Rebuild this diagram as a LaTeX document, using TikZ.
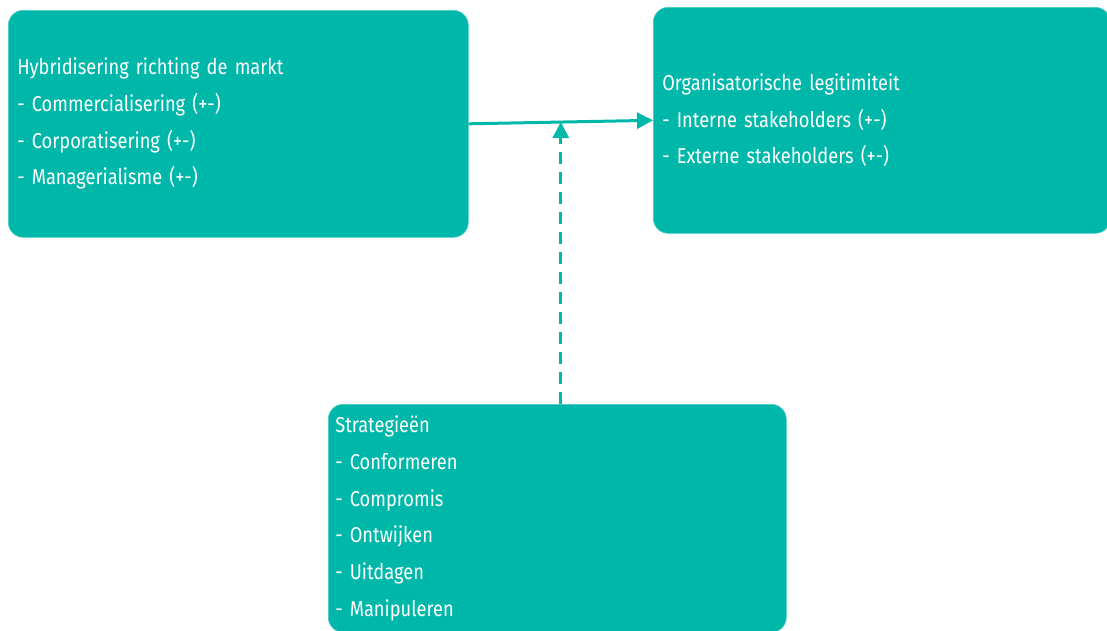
\documentclass[tikz,border=0pt]{standalone}
\usepackage{fontspec}
\setmainfont[FakeStretch=0.85]{Fira Sans}
\usetikzlibrary{arrows.meta,calc}
\definecolor{teal}{RGB}{0,184,170}
\begin{document}
\begin{tikzpicture}[x=1pt,y=-1pt,
  box/.style={draw=teal!70!white,line width=0.6pt,fill=teal,rounded corners=15pt,text=white,
    align=left,anchor=north west,inner ysep=0pt,
    font=\fontsize{21.5}{36.7}\selectfont},
  conn/.style={teal,line width=3pt,-{Triangle[length=16pt,width=16pt]}}]
\useasboundingbox (0,0) rectangle (1107,630);
\node[box,inner xsep=9pt,text width=442pt,minimum height=227pt] (left) at (8,10)
  {Hybridisering richting de markt\\- Commercialisering (+-)\\- Corporatisering (+-)\\- Managerialisme (+-)};
\node[box,inner xsep=9pt,text width=439pt,minimum height=226pt] (right) at (653,7)
  {Organisatorische legitimiteit\\- Interne stakeholders (+-)\\- Externe stakeholders (+-)};
\node[box,inner xsep=7pt,text width=444pt,minimum height=228pt] (bottom) at (328,404)
  {Strategieën\\- Conformeren\\- Compromis\\- Ontwijken\\- Uitdagen\\- Manipuleren};
\coordinate (mid) at ($(left.east)!0.5!(right.west)$);
\draw[conn] (left.east) -- (right.west);
\draw[conn,dash pattern=on 12pt off 8pt] (bottom.north -| mid) -- (mid);
\end{tikzpicture}
\end{document}
